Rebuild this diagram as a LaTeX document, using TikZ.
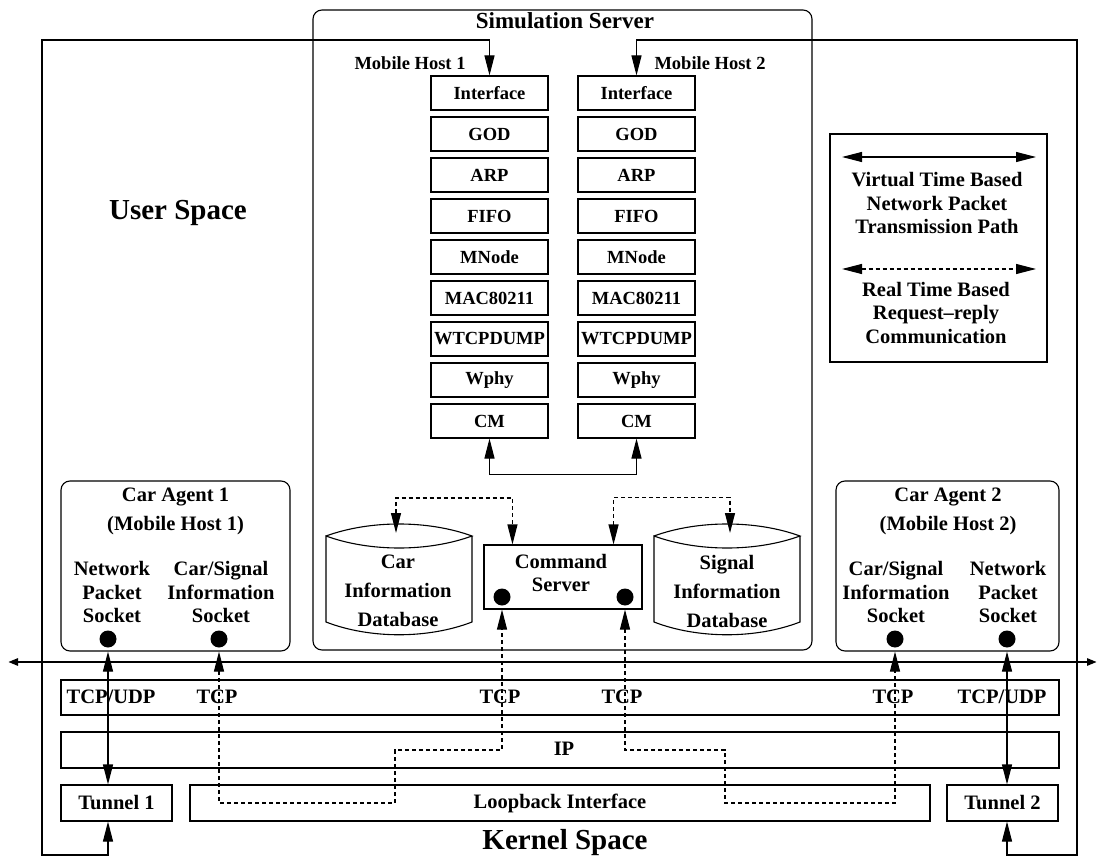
\documentclass[tikz,border=0pt]{standalone}
\usepackage{fontspec}
\setmainfont{Liberation Serif}
\usepackage{tikz}
\usetikzlibrary{arrows.meta,calc}

\newcommand{\stkfont}{\bfseries\fontsize{18.5}{23}\selectfont}
\newcommand{\lblfont}{\bfseries\fontsize{20.5}{23.5}\selectfont}
\newcommand{\widefont}{\bfseries\fontsize{20.5}{29}\selectfont}
\newcommand{\ttlfont}{\bfseries\fontsize{23}{27}\selectfont}
\newcommand{\spcfont}{\bfseries\fontsize{29}{34}\selectfont}

\begin{document}
\begin{tikzpicture}[x=1pt,y=-1pt,line width=1.1pt,
    box/.style={draw,inner sep=2pt,font=\lblfont},
    layerbox/.style={draw,minimum width=117pt,minimum height=34pt,inner sep=1pt,font=\stkfont},
    txt/.style={align=center,font=\lblfont},
    sock/.style={circle,fill,minimum size=17pt,inner sep=0pt},
    tips/.style={{Triangle[length=20pt,width=10pt]}-{Triangle[length=20pt,width=10pt]}},
    dsh/.style={dash pattern=on 4pt off 3pt}]
        \useasboundingbox (0,0) rectangle (1098,861);
        \coordinate (usnw) at (42,40);
        \coordinate (usne) at (1077,40);
        \coordinate (ussw) at (42,855);
        \coordinate (usse) at (1077,855);
        \node[font=\spcfont] (user) at (178,213) {User Space};
        \node[font=\spcfont] (kern) at (565,843) {Kernel Space};

        % simulation server
        \node[draw,rounded corners=9pt,minimum width=499pt,minimum height=640pt] (sim) at (562.5,330) {};
        \node[font=\ttlfont] (simttl) at (565,21) {Simulation Server};
        \node[font=\stkfont] (mh1) at (410,63) {Mobile Host 1};
        \node[font=\stkfont] (mh2) at (710,63) {Mobile Host 2};
        \foreach \lay [count=\i] in {Interface,GOD,ARP,FIFO,MNode,MAC80211,WTCPDUMP,Wphy,CM} {
            \node[layerbox] (a\i) at (489.5,{93+41*(\i-1)}) {\lay};
            \node[layerbox] (b\i) at (636.5,{93+41*(\i-1)}) {\lay};
        }
        \foreach \l in {326,654} {
            \draw (\l,536) .. controls (\l+44,520) and (\l+102,520) .. (\l+146,536)
                .. controls (\l+102,552) and (\l+44,552) .. (\l,536) -- (\l,622)
                .. controls (\l+44,639) and (\l+102,639) .. (\l+146,622) -- (\l+146,536);
        }
        \coordinate (cardb) at (396,533);
        \coordinate (sigdb) at (730,533);
        \node[txt,font=\widefont] (cartxt) at (398,591) {Car\\Information\\Database};
        \node[txt,font=\widefont] (sigtxt) at (727,591) {Signal\\Information\\Database};
        \node[draw,minimum width=158pt,minimum height=64pt] (cmd) at (563,577) {};
        \node[txt] (cmdtxt) at (561,573) {Command\\Server};
        \node[sock] (cd1) at (502,597) {};
        \node[sock] (cd2) at (625,597) {};

        % car agents
        \node[draw,rounded corners=9pt,minimum width=229pt,minimum height=170pt] (ag1) at (175.5,566) {};
        \node[txt,font=\widefont] (ag1ttl) at (175.5,511.5) {Car Agent 1\\(Mobile Host 1)};
        \node[txt] (np1txt) at (112,592) {Network\\Packet\\Socket};
        \node[txt] (cs1txt) at (221,592) {Car/Signal\\Information\\Socket};
        \node[sock] (np1) at (108,639) {};
        \node[sock] (cs1) at (219,639) {};
        \node[draw,rounded corners=9pt,minimum width=223pt,minimum height=170pt] (ag2) at (947.5,566) {};
        \node[txt,font=\widefont] (ag2ttl) at (948,511.5) {Car Agent 2\\(Mobile Host 2)};
        \node[txt] (cs2txt) at (896,592) {Car/Signal\\Information\\Socket};
        \node[txt] (np2txt) at (1008,592) {Network\\Packet\\Socket};
        \node[sock] (cs2) at (895,639) {};
        \node[sock] (np2) at (1007,639) {};

        % legend
        \node[draw,minimum width=217pt,minimum height=228pt] (leg) at (938.5,248) {};
        \node[txt] (vtxt) at (937,203) {Virtual Time Based\\Network Packet\\Transmission Path};
        \node[txt] (rtxt) at (936,313) {Real Time Based\\Request--reply\\Communication};
        \coordinate (v1) at (842,157);
        \coordinate (v2) at (1036,157);
        \coordinate (r1) at (842,269);
        \coordinate (r2) at (1036,269);
        \draw[tips] (v1) -- (v2);
        \draw[tips,dsh] (r1) -- (r2);

        % kernel layers
        \coordinate (busl) at (8,662);
        \coordinate (busr) at (1097,662);
        \draw[line width=2.5pt,{Triangle[length=10pt,width=7pt]}-{Triangle[length=10pt,width=7pt]}] (busl) -- (busr);
        \node[box,minimum width=998pt,minimum height=35pt] (tcp) at (560,697.5) {};
        \node[box,minimum width=998pt,minimum height=36pt] (ip) at (560,750) {};
        \node[font=\lblfont] (ipl) at (564,749) {IP};
        \foreach \x/\t [count=\i] in {111/{TCP/UDP},217/TCP,500/TCP,622/TCP,893/TCP,1002/{TCP/UDP}}
            \node[font=\lblfont] (tl\i) at (\x,697) {\t};
        \node[box,minimum width=111pt,minimum height=36pt] (t1) at (116.5,803) {Tunnel 1};
        \node[box,minimum width=740pt,minimum height=36pt] (lo) at (560,803) {Loopback Interface};
        \node[box,minimum width=111pt,minimum height=36pt] (t2) at (1002.5,803) {Tunnel 2};

        % connectors
        \draw[tips] (a1.north) |- (usnw) -- (ussw) -| (np1 |- t1.south);
        \draw[tips] (b1.north) |- (usne) -- (usse) -| (np2 |- t2.south);
        \draw[tips] (np1 |- ag1.south) -- (np1 |- t1.north);
        \draw[tips] (np2 |- ag2.south) -- (np2 |- t2.north);
        \draw[tips] (a9.south) -- ++(0,36) -| (b9.south);
        \draw[tips,dsh] (cardb) -- ++(0,-35) -| ($(cmd.north west)+(29,0)$);
        \draw[tips,dsh] ($(cmd.north east)+(-29,0)$) -- ++(0,-47) -| (sigdb);
        \coordinate (lbend) at (395,750);
        \coordinate (rbend) at (725,750);
        \draw[tips,dsh] (cs1 |- ag1.south) -- (cs1 |- lo.center) -| (lbend) -| (cd1 |- cmd.south);
        \draw[tips,dsh] (cd2 |- cmd.south) |- (rbend) |- (cs2 |- lo.center) -- (cs2 |- ag2.south);
    \end{tikzpicture}
\end{document}
